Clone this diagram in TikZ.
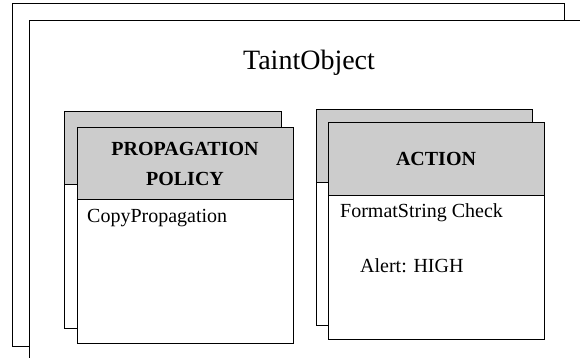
\documentclass[tikz,border=0pt]{standalone}
\usepackage{fontspec}
\setmainfont{Liberation Serif}
\newfontfamily\timesfont{Liberation Serif}
\usepackage{xcolor}
\usetikzlibrary{positioning, calc}

\tikzset{
  frame/.style={draw=black, line width=1pt, fill=white},
  header/.style={draw=black, line width=1pt, fill=black!20},
  title/.style={font=\timesfont\fontsize{28}{32}\selectfont},
  boxtitle/.style={font=\timesfont\fontsize{20}{30}\selectfont\bfseries, align=center},
  entry/.style={font=\timesfont\fontsize{20}{24}\selectfont, anchor=base west, inner sep=0pt},
}

\begin{document}
\begin{tikzpicture}[x=1pt, y=-1pt]
          \clip (0,0) rectangle (580,358);
          \fill[white] (0,0) rectangle (580,358);

          % TaintObject frames
          \draw[frame] (12,4) rectangle (564,346);
          \draw[frame] (29,21) rectangle (600,380);
          \node[title, anchor=base] (taint) at (309,70) {TaintObject};

          % Propagation policy
          \draw[frame] (64,112) rectangle (281,328);
          \draw[header] (64,112) rectangle (281,184);
          \draw[frame] (77,128) rectangle (293,343);
          \draw[header] (77,128) rectangle (293,199);
          \node[boxtitle] (policy) at (185,163.5) {PROPAGATION\\POLICY};
          \node[entry] (copy) at (87,222) {CopyPropagation};

          % Action
          \draw[frame] (316,110) rectangle (532,325);
          \draw[header] (316,110) rectangle (532,182);
          \draw[frame] (328,123) rectangle (544,339);
          \draw[header] (328,123) rectangle (544,195);
          \node[boxtitle] (action) at (436,159) {ACTION};
          \node[entry] (format) at (340,217) {FormatString Check};
          \node[entry] (alert) at (360,272) {Alert: HIGH};
        \end{tikzpicture}
\end{document}
